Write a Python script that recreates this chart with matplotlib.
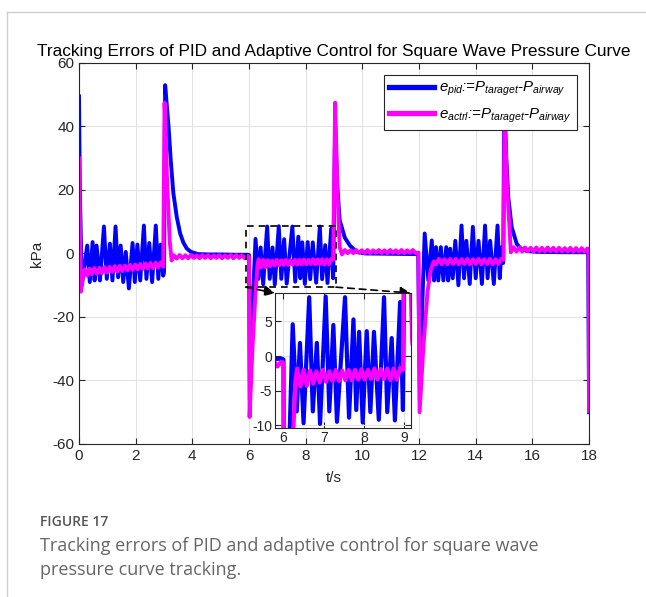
import numpy as np
import matplotlib.pyplot as plt
from matplotlib.patches import Rectangle
from matplotlib.lines import Line2D

plt.rcParams['font.family'] = ['Liberation Sans', 'DejaVu Sans']
plt.rcParams['mathtext.fontset'] = 'custom'
plt.rcParams['mathtext.it'] = 'Liberation Sans:italic'
plt.rcParams['mathtext.rm'] = 'Liberation Sans:italic'
plt.rcParams['axes.unicode_minus'] = False

# ---- PID error (t in s, e in kPa)
pid_t_a = [0.00, 0.03, 0.10, 0.29, 0.38, 0.48, 0.55, 0.62, 0.74, 0.88, 0.98, 1.09, 1.18, 1.29, 1.38,
           1.47, 1.56, 1.65, 1.76, 1.89, 1.97, 2.06, 2.16, 2.29, 2.38, 2.48, 2.58, 2.71, 2.80, 2.88, 2.97]
pid_e_a = [49.5, 20, -10, 2.5, -9, 3.6, -8.5, 2.5, -8.5, 8.5, -8, 3.1, -8.5, 8.5, -7.5,
           2.5, -9, 0.5, -11, 3.3, -9, 2.8, -8.5, 8.8, -8, 3.3, -9, 8.8, -8, 2.8, -7]
pid_t_b = [3.00, 3.04, 3.16, 3.24, 3.33, 3.45, 3.57, 3.68, 3.80, 3.95, 4.20, 4.60, 5.00, 5.50, 5.97]
pid_e_b = [-6, 53, 40, 29, 19, 11.5, 6.3, 3.5, 1.6, 0.5, -0.2, -0.3, -0.3, -0.4, -0.4]
pid_t_c = [6.00, 6.03, 6.10, 6.16, 6.23, 6.33, 6.41, 6.50, 6.64, 6.73, 6.83, 6.91, 7.05, 7.14, 7.24,
           7.33, 7.53, 7.63, 7.74, 7.81, 7.88, 7.97, 8.07, 8.16, 8.25, 8.37, 8.50, 8.58, 8.69, 8.77,
           8.90, 8.97]
pid_e_c = [-0.5, -46, -25, -10, 4.6, -8.0, 1.9, -9.7, 8.5, -8.0, 1.9, -9.8, 8.6, -8.0, 4.5,
           -9.5, 8.5, -8.9, 5.3, -7.8, 3.5, -9.6, 3.6, -8.1, 3.5, -9.2, 8.5, -8.1, 2.6, -9.3,
           7.8, -7.8]
pid_t_d = [9.04, 9.11, 9.20, 9.38, 9.56, 9.80, 10.10, 11.00, 11.97]
pid_e_d = [40, 22, 10.5, 5, 2.5, 0.5, 0.0, -0.1, -0.2]
pid_t_e = [12.03, 12.12, 12.20, 12.33, 12.45, 12.53, 12.60, 12.68, 12.77, 12.86, 12.96, 13.03, 13.10,
           13.19, 13.28, 13.39, 13.50, 13.59, 13.67, 13.79, 13.90, 14.00, 14.10, 14.22, 14.33, 14.42,
           14.51, 14.64, 14.77, 14.85, 14.92, 14.97]
pid_e_e = [-46, -15, 6.3, -8.5, 4.1, -8.5, 2.0, -8.5, 2.0, -8.5, 2.0, -8.5, 1.5,
           -7.8, 4.0, -10, 8.8, -7.8, 4.0, -9.6, 8.4, -7.8, 4.0, -9.6, 8.8, -7.8,
           4.0, -9.6, 8.8, -7.8, 2.0, -3]
pid_t_f = [15.01, 15.08, 15.15, 15.27, 15.45, 15.60, 15.80, 16.20, 17.00, 17.97, 18.00]
pid_e_f = [50, 30, 17.8, 8.3, 3.0, 1.5, 0.8, 0.5, 0.4, 0.4, -50]

# ---- adaptive controller error
ctrl_t_a = [0.00, 0.07, 0.14, 0.20, 0.28, 0.36, 0.45, 0.54, 0.63, 0.72, 0.81, 0.90, 0.99, 1.08, 1.17,
            1.26, 1.35, 1.44, 1.53, 1.62, 1.71, 1.80, 1.89, 1.98, 2.07, 2.16, 2.25, 2.34, 2.43, 2.52,
            2.61, 2.70, 2.79, 2.88, 2.97]
ctrl_e_a = [30, -12, -7, -5.0, -7.0, -4.8, -6.5, -4.6, -6.4, -4.5, -6.2, -4.3, -6.0, -4.2, -5.8,
            -4.0, -5.7, -3.9, -5.5, -3.8, -5.3, -3.6, -5.2, -3.5, -5.0, -3.3, -4.9, -3.2, -4.7, -3.0,
            -4.6, -2.9, -4.4, -2.8, -4.2]
ctrl_t_b = [3.02, 3.10, 3.20, 3.27, 3.35, 3.45, 3.55, 3.65, 3.75, 3.85, 3.95, 4.05, 4.15, 4.25, 4.35,
            4.45, 4.55, 4.65, 4.75, 4.85, 4.95, 5.05, 5.15, 5.25, 5.35, 5.45, 5.55, 5.65, 5.75, 5.85,
            5.95]
ctrl_e_b = [47.5, 25, 4, -2.2, -0.6, -1.6, -0.5, -1.5, -0.6, -1.5, -0.5, -1.4, -0.6, -1.5, -0.5,
            -1.4, -0.5, -1.5, -0.6, -1.4, -0.5, -1.5, -0.6, -1.4, -0.5, -1.5, -0.5, -1.4, -0.6, -1.5,
            -0.8]
ctrl_t_c = [6.00, 6.02, 6.12, 6.22, 6.30, 6.34, 6.42, 6.50, 6.58, 6.66, 6.74, 6.82, 6.90, 6.98, 7.06,
            7.14, 7.22, 7.30, 7.38, 7.46, 7.54, 7.62, 7.70, 7.78, 7.86, 7.94, 8.02, 8.10, 8.18, 8.26,
            8.34, 8.42, 8.50, 8.58, 8.66, 8.74, 8.82, 8.90, 8.97]
ctrl_e_c = [-1.0, -51.5, -30, -14, -3.5, -1.8, -4.4, -2.0, -4.3, -2.1, -4.0, -2.2, -3.8, -2.0, -3.7,
            -2.2, -3.6, -2.0, -3.6, -2.1, -3.5, -2.0, -3.5, -2.0, -3.4, -1.9, -3.4, -2.0, -3.3, -1.8,
            -3.4, -1.9, -3.3, -1.8, -3.5, -1.8, -3.4, -1.7, -2.0]
ctrl_t_d = [9.04, 9.12, 9.20, 9.28, 9.38, 9.48, 9.58, 9.68, 9.78, 9.88, 9.98, 10.08, 10.18, 10.28,
            10.38, 10.48, 10.58, 10.68, 10.78, 10.88, 10.98, 11.08, 11.18, 11.28, 11.38, 11.48, 11.58,
            11.68, 11.78, 11.88, 11.98]
ctrl_e_d = [47.5, 20, 2, -0.3, 1.1, 0.1, 1.0, 0.1, 1.1, 0.2, 1.0, 0.1, 1.1, 0.1,
            1.0, 0.2, 1.1, 0.1, 1.0, 0.1, 1.1, 0.2, 1.0, 0.1, 1.1, 0.1, 1.0,
            0.2, 1.1, 0.1, 0.3]
ctrl_t_e = [12.02, 12.15, 12.30, 12.42, 12.52, 12.60, 12.70, 12.80, 12.90, 13.00, 13.10, 13.20, 13.30,
            13.40, 13.50, 13.60, 13.70, 13.80, 13.90, 14.00, 14.10, 14.20, 14.30, 14.40, 14.50, 14.60,
            14.70, 14.80, 14.90, 14.98]
ctrl_e_e = [-50, -30, -12, -5, -2.5, -3.5, -1.7, -3.4, -1.8, -3.4, -1.7, -3.3, -1.7,
            -3.4, -1.8, -3.3, -1.7, -3.4, -1.8, -3.3, -1.7, -3.4, -1.8, -3.3, -1.7, -3.4,
            -1.8, -3.3, -1.7, -2.0]
ctrl_t_f = [15.02, 15.10, 15.24, 15.34, 15.44, 15.54, 15.64, 15.74, 15.84, 15.94, 16.04, 16.14, 16.24,
            16.34, 16.44, 16.54, 16.64, 16.74, 16.84, 16.94, 17.04, 17.14, 17.24, 17.34, 17.44, 17.54,
            17.64, 17.74, 17.84, 17.94, 17.99, 18.00]
ctrl_e_f = [45, 23, 0.4, 2.0, 0.6, 1.9, 0.6, 1.9, 0.7, 1.8, 0.6, 1.9, 0.6,
            1.8, 0.6, 1.9, 0.7, 1.8, 0.6, 1.8, 0.6, 1.7, 0.6, 1.8, 0.5, 1.7,
            0.6, 1.7, 0.5, 1.6, 0.8, -49.6]

t_pid = np.concatenate([pid_t_a, pid_t_b, pid_t_c, pid_t_d, pid_t_e, pid_t_f])
e_pid = np.concatenate([pid_e_a, pid_e_b, pid_e_c, pid_e_d, pid_e_e, pid_e_f])
t_ctrl = np.concatenate([ctrl_t_a, ctrl_t_b, ctrl_t_c, ctrl_t_d, ctrl_t_e, ctrl_t_f])
e_ctrl = np.concatenate([ctrl_e_a, ctrl_e_b, ctrl_e_c, ctrl_e_d, ctrl_e_e, ctrl_e_f])

lbl_pid = r'$e_{pid}$:=$P_{taraget}$-$P_{airway}$'
lbl_ctrl = r'$e_{actrl}$:=$P_{taraget}$-$P_{airway}$'

blue = '#0000ff'
magenta = '#ff00ff'
ink = '#262626'

fig = plt.figure(figsize=(6.46, 5.97), dpi=100)

# light card border (left and top only)
fig.add_artist(Line2D([7 / 646, 7 / 646], [0, 1 - 12 / 597], transform=fig.transFigure, color='#cfcfcf', lw=1))
fig.add_artist(Line2D([7 / 646, 1], [1 - 12 / 597, 1 - 12 / 597], transform=fig.transFigure, color='#cfcfcf', lw=1))


def style_axes(a, fs):
    a.grid(True, color='#e3e3e3', lw=0.8)
    a.set_axisbelow(True)
    a.tick_params(direction='in', top=True, right=True, length=4, width=0.8,
                  colors=ink, labelsize=fs, labelcolor=ink)
    for s in a.spines.values():
        s.set_color(ink)
        s.set_linewidth(0.8)


ax = fig.add_axes([0.1223, 0.2563, 0.7895, 0.6382])
ax.plot(t_pid, e_pid, color=blue, lw=2.8, label=lbl_pid, solid_joinstyle='round')
ax.plot(t_ctrl, e_ctrl, color=magenta, lw=2.8, label=lbl_ctrl, solid_joinstyle='round')
ax.set_xlim(0, 18)
ax.set_ylim(-60, 60)
ax.set_xticks(np.arange(0, 19, 2))
ax.set_yticks(np.arange(-60, 61, 20))
style_axes(ax, 11)
ax.set_xlabel('t/s', fontsize=11, color=ink, labelpad=6)
ax.set_ylabel('kPa', fontsize=11, color=ink, labelpad=6)
ax.set_title('Tracking Errors of PID and Adaptive Control for Square Wave Pressure Curve',
             fontsize=12.4, color='black', pad=5)

leg = ax.legend(loc='upper right', bbox_to_anchor=(0.976, 0.969), borderaxespad=0,
                fancybox=False, framealpha=1, edgecolor=ink, prop={'size': 10.8, 'style': 'italic'},
                handlelength=3.0, handletextpad=0.35, labelspacing=0.55, borderpad=0.35)
leg.get_frame().set_linewidth(0.8)
for h in leg.get_lines():
    h.set_linewidth(3.8)

# zoom box and arrows
x0, x1, y0, y1 = 5.88, 9.07, -10.6, 8.8
ax.add_patch(Rectangle((x0, y0), x1 - x0, y1 - y0, fill=False, ls=(0, (4, 3)), lw=1.2, ec='black', zorder=5))

axin = fig.add_axes([0.4257, 0.2830, 0.2105, 0.2261])
axin.plot(t_pid, e_pid, color=blue, lw=3.0, solid_joinstyle='round')
axin.plot(t_ctrl, e_ctrl, color=magenta, lw=3.0, solid_joinstyle='round')
axin.set_xlim(5.79, 9.17)
axin.set_ylim(-10.4, 9.1)
axin.set_xticks([6, 7, 8, 9])
axin.set_yticks([-10, -5, 0, 5])
style_axes(axin, 10)
axin.tick_params(pad=2)

for xs, corner in [(x0, (0, 1)), (x1, (1, 1))]:
    ax.annotate('', xy=corner, xycoords=axin.transAxes, xytext=(xs, y0), textcoords='data',
                arrowprops=dict(arrowstyle='-|>', ls=(0, (4, 3)), color='black', lw=1.2,
                                mutation_scale=16, shrinkA=0, shrinkB=0), zorder=6)

# caption
fig.text(40 / 646, 1 - 522 / 597, 'FIGURE 17', fontsize=10, color='#555555',
         family=['Open Sans', 'DejaVu Sans'], fontweight='semibold', va='center')
fig.text(40 / 646, 1 - 546 / 597, 'Tracking errors of PID and adaptive control for square wave',
         fontsize=13, color='#666666', family=['Open Sans', 'DejaVu Sans'], va='center')
fig.text(40 / 646, 1 - 570 / 597, 'pressure curve tracking.',
         fontsize=13, color='#666666', family=['Open Sans', 'DejaVu Sans'], va='center')

fig.savefig('out.png', dpi=100)
